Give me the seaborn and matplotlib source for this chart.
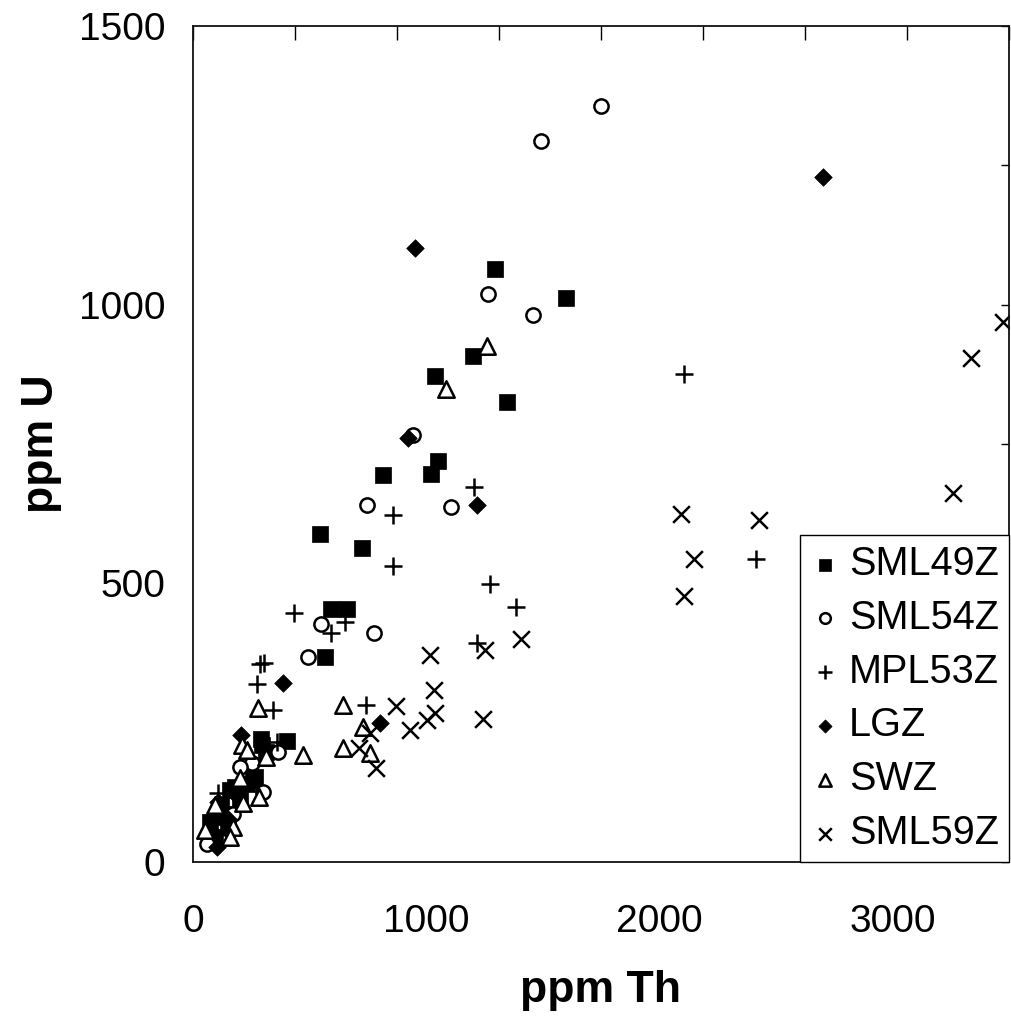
import matplotlib
matplotlib.use("Agg")
import matplotlib.pyplot as plt
import seaborn as sns
import pandas as pd

# ---- data (ppm Th, ppm U) ----
sml49z_x = [1296, 1601, 1202, 1039, 1346, 1050, 1021, 815, 725, 545, 591, 660, 567,
            291, 405, 295, 313, 259, 202, 159, 130, 73, 94, 266, 180, 230, 120, 150, 105]
sml49z_y = [1064, 1012, 908, 872, 826, 719, 696, 694, 563, 588, 454, 454, 368,
            220, 217, 210, 198, 147, 111, 129, 87, 72, 45, 153, 135, 140, 100, 62, 80]

sml54z_x = [1751, 1494, 1266, 1459, 943, 747, 1106, 548, 777, 495, 366, 251, 202, 302, 170, 59]
sml54z_y = [1356, 1293, 1019, 981, 767, 640, 637, 427, 411, 367, 198, 177, 171, 126, 87, 33]

mpl53z_x = [2104, 1206, 858, 858, 1275, 1386, 2416, 435, 652, 591, 1218, 288, 305, 273,
            342, 742, 359, 109]
mpl53z_y = [875, 673, 623, 531, 499, 458, 543, 446, 431, 410, 393, 356, 357, 320,
            273, 282, 216, 123]

lgz_x = [953, 2704, 924, 1220, 388, 803, 207, 109, 102, 150, 185]
lgz_y = [1102, 1229, 760, 641, 321, 250, 228, 108, 27, 78, 120]

swz_x = [1263, 1085, 278, 642, 731, 645, 760, 470, 209, 230, 313, 202, 285, 216, 94, 173, 157, 52]
swz_y = [925, 848, 276, 282, 242, 204, 196, 192, 210, 201, 189, 150, 116, 105, 102, 63, 45, 57]

sml59z_x = [3476, 3335, 3258, 2094, 2429, 2150, 2104, 1017, 1032, 871, 1406, 1253, 1246,
            1002, 1036, 931, 760, 714, 785]
sml59z_y = [969, 904, 662, 624, 613, 543, 477, 371, 309, 280, 400, 380, 256,
            255, 267, 237, 231, 205, 168]

series_names = ["SML49Z", "SML54Z", "MPL53Z", "LGZ", "SWZ", "SML59Z"]
series_x = [sml49z_x, sml54z_x, mpl53z_x, lgz_x, swz_x, sml59z_x]
series_y = [sml49z_y, sml54z_y, mpl53z_y, lgz_y, swz_y, sml59z_y]

x_ticks = [0, 1000, 2000, 3000]
y_ticks = [0, 500, 1000, 1500]

# ---- style ----
sns.set_theme(style="white")
plt.rcParams["font.family"] = ["Liberation Sans", "DejaVu Sans"]
plt.rcParams["text.color"] = "black"
plt.rcParams["axes.labelcolor"] = "black"
plt.rcParams["xtick.color"] = "black"
plt.rcParams["ytick.color"] = "black"

styles = {
    "SML49Z": dict(marker="s", s=135, facecolor="black", edgecolor="black", linewidth=0.5),
    "SML54Z": dict(marker="o", s=105, facecolor="white", edgecolor="black", linewidth=1.8),
    "MPL53Z": dict(marker="+", s=165, color="black", linewidth=1.8),
    "LGZ": dict(marker="D", s=80, facecolor="black", edgecolor="black", linewidth=0.5),
    "SWZ": dict(marker="^", s=140, facecolor="white", edgecolor="black", linewidth=1.8),
    "SML59Z": dict(marker="x", s=145, color="black", linewidth=1.8),
}

fig = plt.figure(figsize=(10.11, 10.21), dpi=100)
ax = fig.add_axes([193 / 1011, 1 - 862 / 1021, (1009 - 193) / 1011, (862 - 26) / 1021])

for name, xs, ys in zip(series_names, series_x, series_y):
    df = pd.DataFrame({"Th": xs, "U": ys})
    sns.scatterplot(data=df, x="Th", y="U", ax=ax, label=name, **styles[name])

ax.set_xlim(0, 3500)
ax.set_ylim(0, 1500)
ax.set_xticks(x_ticks)
ax.set_xticks([500, 1500, 2500, 3500], minor=True)
ax.set_yticks(y_ticks)
ax.set_yticks([250, 750, 1250], minor=True)
ax.tick_params(axis="x", which="major", direction="in", length=9.5, width=1.0,
               labelsize=28, pad=30, colors="black")
ax.tick_params(axis="x", which="minor", direction="in", length=7, width=1.0)
ax.tick_params(axis="y", which="both", direction="in", length=6, width=1.0,
               labelsize=28, pad=20, right=True, labelright=False, colors="black")

sec = ax.secondary_xaxis("top", functions=(lambda v: v * 4000 / 3500, lambda v: v * 3500 / 4000))
sec.set_xticks(list(range(0, 4001, 500)))
sec.set_xticklabels([])
sec.tick_params(direction="in", length=10, width=1.0, colors="black")
sec.spines["top"].set_visible(False)

for sp in ax.spines.values():
    sp.set_color("#111111")
    sp.set_linewidth(1.3)

ax.set_xlabel("ppm Th", fontsize=32, fontweight="bold", labelpad=22, color="black")
ax.set_ylabel("ppm U", fontsize=32, fontweight="bold", labelpad=12, color="black")

leg = ax.legend(loc="lower right", fontsize=28.5, frameon=True, fancybox=False,
                framealpha=1, edgecolor="black", borderpad=0.25, labelspacing=0.4,
                handlelength=0.8, handletextpad=0.2, borderaxespad=0.0,
                markerscale=0.75)
leg.get_frame().set_linewidth(1.0)
for t in leg.get_texts():
    t.set_color("black")

fig.savefig("out.png", dpi=100, facecolor="white")
